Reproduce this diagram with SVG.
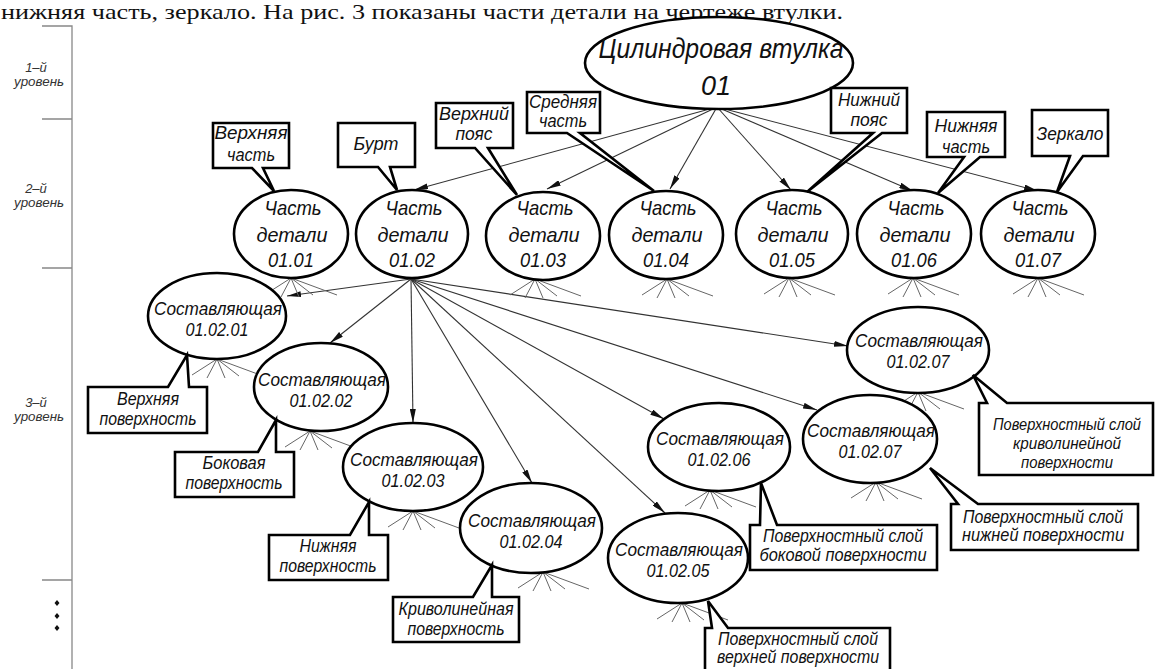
<svg xmlns="http://www.w3.org/2000/svg" width="1158" height="669" viewBox="0 0 1158 669">
<style>
text{font-family:"Liberation Sans","DejaVu Sans",sans-serif;font-style:italic;fill:#111;text-anchor:middle}
.top{font-family:"Liberation Serif","Times New Roman",serif;font-style:normal;text-anchor:start;font-size:22px}
.lvl{font-size:13px;fill:#333}
.t1{font-size:28px}
.t2{font-size:21px}
.t3{font-size:19px}
.lb{font-size:17.5px}
.lbs{font-size:16.5px}
.node{fill:#fff;stroke:#000;stroke-width:2.6}
.call{fill:#fff;stroke:#000;stroke-width:2.6;stroke-linejoin:miter}
.arr{stroke:#333;stroke-width:1.1;fill:none;marker-end:url(#ah)}
.fan{stroke:#666;stroke-width:1;fill:none}
.scale{stroke:#888;stroke-width:1.3;fill:none}
</style>
<defs>
<marker id="ah" markerUnits="userSpaceOnUse" viewBox="0 0 14 6" refX="14" refY="3" markerWidth="14" markerHeight="6" orient="auto">
<path d="M0,0 L14,3 L0,6 Z" fill="#111"/>
</marker>
<g id="fanA" class="fan">
<path d="M0,0 L-25,16 M0,0 L-10,19 M0,0 L8,19 M0,0 L22,17 M0,0 L46,17"/>
</g>
</defs>
<rect width="1158" height="669" fill="#fff"/>

<text class="top" x="1" y="19" textLength="842" lengthAdjust="spacingAndGlyphs">нижняя часть, зеркало. На рис. 3 показаны части детали на чертеже втулки.</text>

<g id="levels">
<path class="scale" d="M42,26 H72 V669 M42,119 H72 M42,268 H72 M42,580 H72"/>
<text class="lvl" x="36" y="72">1–й</text><text class="lvl" x="39" y="86" textLength="50" lengthAdjust="spacingAndGlyphs">уровень</text>
<text class="lvl" x="36" y="193">2–й</text><text class="lvl" x="39" y="207" textLength="50" lengthAdjust="spacingAndGlyphs">уровень</text>
<text class="lvl" x="36" y="407">3–й</text><text class="lvl" x="39" y="421" textLength="50" lengthAdjust="spacingAndGlyphs">уровень</text>
<path d="M57,600 l2.5,3 l-2.5,3 l-2.5,-3 Z M57,613 l2.5,3 l-2.5,3 l-2.5,-3 Z M57,625 l2.5,3 l-2.5,3 l-2.5,-3 Z" fill="#111"/>
</g>

<g id="connectors">
<path class="arr" d="M717,107 L414,190"/>
<path class="arr" d="M717,107 L547,189"/>
<path class="arr" d="M717,107 L670,189"/>
<path class="arr" d="M717,107 L791,190"/>
<path class="arr" d="M717,107 L913,191"/>
<path class="arr" d="M717,107 L1038,191"/>
<path class="arr" d="M411,279 L287,296"/>
<path class="arr" d="M411,279 L330,343"/>
<path class="arr" d="M411,279 L413,423"/>
<path class="arr" d="M411,279 L532,483"/>
<path class="arr" d="M411,279 L665,513"/>
<path class="arr" d="M411,279 L664,419"/>
<path class="arr" d="M411,279 L817,410"/>
<path class="arr" d="M411,279 L848,346"/>
<use href="#fanA" x="291" y="278"/>
<use href="#fanA" x="535" y="279"/>
<use href="#fanA" x="667" y="279"/>
<use href="#fanA" x="789" y="278"/>
<use href="#fanA" x="913" y="278"/>
<use href="#fanA" x="1038" y="278"/>
<use href="#fanA" x="217" y="359"/>
<use href="#fanA" x="310" y="431"/>
<use href="#fanA" x="413" y="511"/>
<use href="#fanA" x="543" y="572"/>
<use href="#fanA" x="682" y="603"/>
<use href="#fanA" x="710" y="490"/>
<use href="#fanA" x="876" y="482"/>
<use href="#fanA" x="918" y="392"/>
</g>

<g id="n01"><ellipse class="node" cx="719" cy="63" rx="134" ry="46"/>
<text class="t1" x="721" y="58" textLength="245" lengthAdjust="spacingAndGlyphs">Цилиндровая втулка</text><text class="t1" x="716" y="95" textLength="30" lengthAdjust="spacingAndGlyphs">01</text></g>

<g id="n0101"><ellipse class="node" cx="291" cy="234" rx="57" ry="44"/>
<text class="t2" x="293" y="215" textLength="57" lengthAdjust="spacingAndGlyphs">Часть</text><text class="t2" x="292" y="242" textLength="71" lengthAdjust="spacingAndGlyphs">детали</text><text class="t2" x="291" y="267" textLength="46" lengthAdjust="spacingAndGlyphs">01.01</text></g>
<g id="n0102"><ellipse class="node" cx="412" cy="234" rx="56" ry="44"/>
<text class="t2" x="414" y="215" textLength="57" lengthAdjust="spacingAndGlyphs">Часть</text><text class="t2" x="413" y="242" textLength="71" lengthAdjust="spacingAndGlyphs">детали</text><text class="t2" x="412" y="267" textLength="46" lengthAdjust="spacingAndGlyphs">01.02</text></g>
<g id="n0103"><ellipse class="node" cx="543" cy="236" rx="57" ry="44"/>
<text class="t2" x="545" y="215" textLength="57" lengthAdjust="spacingAndGlyphs">Часть</text><text class="t2" x="544" y="242" textLength="71" lengthAdjust="spacingAndGlyphs">детали</text><text class="t2" x="543" y="267" textLength="46" lengthAdjust="spacingAndGlyphs">01.03</text></g>
<g id="n0104"><ellipse class="node" cx="666" cy="235" rx="57" ry="44"/>
<text class="t2" x="668" y="215" textLength="57" lengthAdjust="spacingAndGlyphs">Часть</text><text class="t2" x="667" y="242" textLength="71" lengthAdjust="spacingAndGlyphs">детали</text><text class="t2" x="666" y="267" textLength="46" lengthAdjust="spacingAndGlyphs">01.04</text></g>
<g id="n0105"><ellipse class="node" cx="792" cy="234" rx="56" ry="44"/>
<text class="t2" x="794" y="215" textLength="57" lengthAdjust="spacingAndGlyphs">Часть</text><text class="t2" x="793" y="242" textLength="71" lengthAdjust="spacingAndGlyphs">детали</text><text class="t2" x="792" y="267" textLength="46" lengthAdjust="spacingAndGlyphs">01.05</text></g>
<g id="n0106"><ellipse class="node" cx="914" cy="234" rx="57" ry="44"/>
<text class="t2" x="916" y="215" textLength="57" lengthAdjust="spacingAndGlyphs">Часть</text><text class="t2" x="915" y="242" textLength="71" lengthAdjust="spacingAndGlyphs">детали</text><text class="t2" x="914" y="267" textLength="46" lengthAdjust="spacingAndGlyphs">01.06</text></g>
<g id="n0107"><ellipse class="node" cx="1038" cy="234" rx="57" ry="44"/>
<text class="t2" x="1040" y="215" textLength="57" lengthAdjust="spacingAndGlyphs">Часть</text><text class="t2" x="1039" y="242" textLength="71" lengthAdjust="spacingAndGlyphs">детали</text><text class="t2" x="1038" y="267" textLength="46" lengthAdjust="spacingAndGlyphs">01.07</text></g>

<g id="n010201"><ellipse class="node" cx="217" cy="316" rx="69" ry="43"/>
<text class="t3" x="218" y="315" textLength="128" lengthAdjust="spacingAndGlyphs">Составляющая</text><text class="t3" x="217" y="336" textLength="63" lengthAdjust="spacingAndGlyphs">01.02.01</text></g>
<g id="n010202"><ellipse class="node" cx="321" cy="387" rx="67" ry="44"/>
<text class="t3" x="322" y="386" textLength="128" lengthAdjust="spacingAndGlyphs">Составляющая</text><text class="t3" x="321" y="407" textLength="63" lengthAdjust="spacingAndGlyphs">01.02.02</text></g>
<g id="n010203"><ellipse class="node" cx="413" cy="467" rx="70" ry="44"/>
<text class="t3" x="414" y="466" textLength="128" lengthAdjust="spacingAndGlyphs">Составляющая</text><text class="t3" x="413" y="487" textLength="63" lengthAdjust="spacingAndGlyphs">01.02.03</text></g>
<g id="n010204"><ellipse class="node" cx="531" cy="528" rx="71" ry="45"/>
<text class="t3" x="532" y="527" textLength="128" lengthAdjust="spacingAndGlyphs">Составляющая</text><text class="t3" x="531" y="548" textLength="63" lengthAdjust="spacingAndGlyphs">01.02.04</text></g>
<g id="n010205"><ellipse class="node" cx="678" cy="558" rx="70" ry="45"/>
<text class="t3" x="679" y="556" textLength="128" lengthAdjust="spacingAndGlyphs">Составляющая</text><text class="t3" x="678" y="577" textLength="63" lengthAdjust="spacingAndGlyphs">01.02.05</text></g>
<g id="n010206"><ellipse class="node" cx="719" cy="447" rx="71" ry="44"/>
<text class="t3" x="720" y="445" textLength="128" lengthAdjust="spacingAndGlyphs">Составляющая</text><text class="t3" x="719" y="466" textLength="63" lengthAdjust="spacingAndGlyphs">01.02.06</text></g>
<g id="n010207b"><ellipse class="node" cx="870" cy="439" rx="67" ry="44"/>
<text class="t3" x="871" y="437" textLength="128" lengthAdjust="spacingAndGlyphs">Составляющая</text><text class="t3" x="870" y="458" textLength="63" lengthAdjust="spacingAndGlyphs">01.02.07</text></g>
<g id="n010207a"><ellipse class="node" cx="918" cy="350" rx="71" ry="43"/>
<text class="t3" x="919" y="347" textLength="128" lengthAdjust="spacingAndGlyphs">Составляющая</text><text class="t3" x="918" y="368" textLength="63" lengthAdjust="spacingAndGlyphs">01.02.07</text></g>

<g id="c-verkh-chast"><path class="call" d="M213,123 H289 V168 H263 L274,191 L252,168 H213 Z"/>
<text class="lb" x="251" y="139" textLength="73" lengthAdjust="spacingAndGlyphs">Верхняя</text><text class="lb" x="251" y="161" textLength="48" lengthAdjust="spacingAndGlyphs">часть</text></g>
<g id="c-burt"><path class="call" d="M338,123 H415 V167 H390 L397,190 L378,167 H338 Z"/>
<text class="lb" x="376" y="150" textLength="45" lengthAdjust="spacingAndGlyphs">Бурт</text></g>
<g id="c-verkh-poyas"><path class="call" d="M436,103 H513 V148 H488 L517,195 L475,148 H436 Z"/>
<text class="lb" x="474" y="120" textLength="70" lengthAdjust="spacingAndGlyphs">Верхний</text><text class="lb" x="474" y="140" textLength="37" lengthAdjust="spacingAndGlyphs">пояс</text></g>
<g id="c-sred"><path class="call" d="M527,92 H600 V133 H580 L654,191 L567,133 H527 Z"/>
<text class="lb" x="563" y="108" textLength="68" lengthAdjust="spacingAndGlyphs">Средняя</text><text class="lb" x="563" y="127" textLength="48" lengthAdjust="spacingAndGlyphs">часть</text></g>
<g id="c-nizh-poyas"><path class="call" d="M831,88 H907 V133 H882 L807,192 L873,133 H831 Z"/>
<text class="lb" x="869" y="106" textLength="62" lengthAdjust="spacingAndGlyphs">Нижний</text><text class="lb" x="869" y="126" textLength="37" lengthAdjust="spacingAndGlyphs">пояс</text></g>
<g id="c-nizh-chast"><path class="call" d="M927,112 H1005 V157 H980 L938,193 L964,157 H927 Z"/>
<text class="lb" x="966" y="132" textLength="63" lengthAdjust="spacingAndGlyphs">Нижняя</text><text class="lb" x="966" y="153" textLength="48" lengthAdjust="spacingAndGlyphs">часть</text></g>
<g id="c-zerk"><path class="call" d="M1032,110 H1108 V156 H1083 L1057,192 L1070,156 H1032 Z"/>
<text class="lb" x="1070" y="140" textLength="67" lengthAdjust="spacingAndGlyphs">Зеркало</text></g>

<g id="c-verkh-pov"><path class="call" d="M88,387 H168 L187,355 L189,387 H207 V433 H88 Z"/>
<text class="lb" x="148" y="405" textLength="62" lengthAdjust="spacingAndGlyphs">Верхняя</text><text class="lb" x="148" y="425" textLength="97" lengthAdjust="spacingAndGlyphs">поверхность</text></g>
<g id="c-bok-pov"><path class="call" d="M175,452 H258 L276,420 L276,452 H294 V497 H175 Z"/>
<text class="lb" x="234" y="469" textLength="63" lengthAdjust="spacingAndGlyphs">Боковая</text><text class="lb" x="234" y="489" textLength="97" lengthAdjust="spacingAndGlyphs">поверхность</text></g>
<g id="c-nizh-pov"><path class="call" d="M269,535 H350 L369,502 L369,535 H388 V580 H269 Z"/>
<text class="lb" x="328" y="552" textLength="57" lengthAdjust="spacingAndGlyphs">Нижняя</text><text class="lb" x="328" y="572" textLength="97" lengthAdjust="spacingAndGlyphs">поверхность</text></g>
<g id="c-kriv-pov"><path class="call" d="M393,597 H473 L492,565 L492,597 H519 V642 H393 Z"/>
<text class="lb" x="456" y="615" textLength="115" lengthAdjust="spacingAndGlyphs">Криволинейная</text><text class="lb" x="456" y="635" textLength="97" lengthAdjust="spacingAndGlyphs">поверхность</text></g>
<g id="c-sloy-verkh"><path class="call" d="M705,628 H712 L708,601 L728,628 H890 V675 H705 Z"/>
<text class="lb" x="798" y="645" textLength="160" lengthAdjust="spacingAndGlyphs">Поверхностный слой</text><text class="lb" x="798" y="663" textLength="162" lengthAdjust="spacingAndGlyphs">верхней поверхности</text></g>
<g id="c-sloy-bok"><path class="call" d="M750,525 H760 L761,483 L777,525 H937 V570 H750 Z"/>
<text class="lb" x="843" y="542" textLength="160" lengthAdjust="spacingAndGlyphs">Поверхностный слой</text><text class="lb" x="843" y="561" textLength="167" lengthAdjust="spacingAndGlyphs">боковой поверхности</text></g>
<g id="c-sloy-nizh"><path class="call" d="M951,504 H958 L930,468 L978,504 H1138 V550 H951 Z"/>
<text class="lb" x="1043" y="523" textLength="160" lengthAdjust="spacingAndGlyphs">Поверхностный слой</text><text class="lb" x="1043" y="541" textLength="162" lengthAdjust="spacingAndGlyphs">нижней поверхности</text></g>
<g id="c-sloy-kriv"><path class="call" d="M979,403 H987 L973,375 L1007,403 H1153 V475 H979 Z"/>
<text class="lbs" x="1067" y="430" textLength="148" lengthAdjust="spacingAndGlyphs">Поверхностный слой</text><text class="lbs" x="1067" y="449" textLength="108" lengthAdjust="spacingAndGlyphs">криволинейной</text><text class="lbs" x="1067" y="468" textLength="92" lengthAdjust="spacingAndGlyphs">поверхности</text></g>
</svg>
